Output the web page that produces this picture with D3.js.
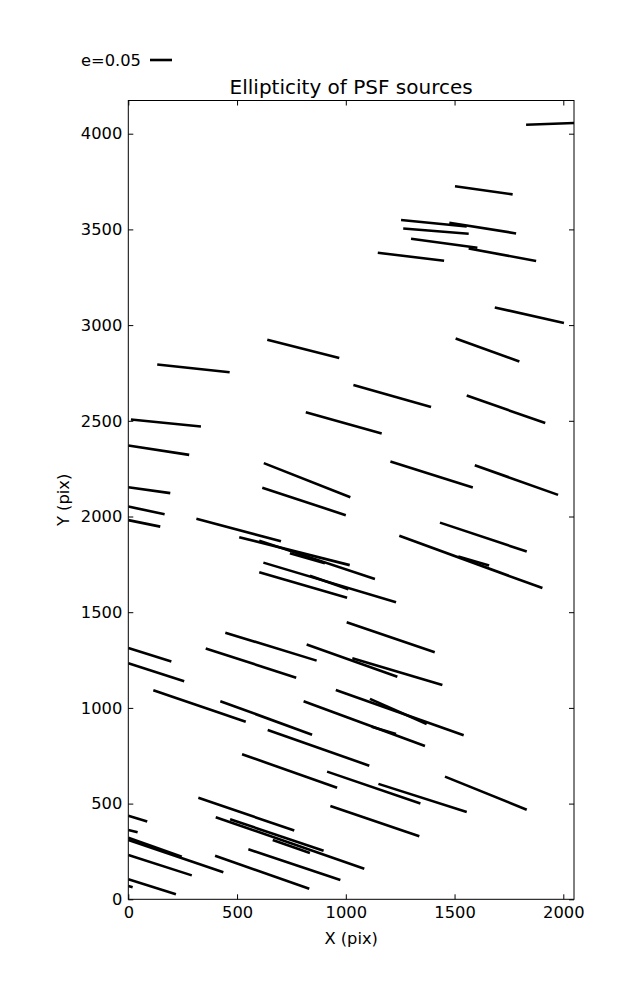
<!DOCTYPE html>
<html>
<head>
<meta charset="utf-8">
<script src="https://cdn.jsdelivr.net/npm/d3@7"></script>
<style>
  body { margin: 0; background: #fff; }
  text { font-family: "DejaVu Sans", sans-serif; fill: #000; }
</style>
</head>
<body>
<svg id="chart" width="637" height="1000"></svg>
<script>
// Whisker segments: start (x0,y0) and end (x1,y1) in detector pixels
const x0 = [1829,1502,1254,1476,1264,1300,1565,1147,1685, 639,1505, 133,1035,1556,  12, 816,   0, 623,1205,1593,   0, 616,   0,   0, 313, 510, 602, 743, 621, 835, 602,1433,1246,1517,1004,   0, 356, 446, 820,1030,   0, 115, 423, 806,1119, 954,1111, 641, 523, 914,1150,1456, 322, 929,   0, 402, 468, 664,   0,   0,   0,   0, 399, 552,   0,   0];
const y0 = [4047,3725,3549,3535,3505,3451,3400,3378,3092,2923,2930,2794,2687,2632,2507,2545,2371,2279,2287,2268,2153,2150,2052,1981,1988,1892,1874,1808,1759,1690,1709,1968,1899,1791,1448,1313,1310,1393,1331,1260,1234,1092,1035,1035, 902,1094,1047, 885, 758, 667, 603, 641, 531, 488, 437, 429, 418, 310, 362, 322, 310, 232, 228, 261, 105,  70];
const x1 = [2060,1767,1556,1783,1565,1605,1875,1452,2003, 970,1798, 466,1392,1917, 334,1165, 280,1021,1584,1976, 193,1000, 167, 147, 702,1018,1134, 904,1231,1012,1006,1832,1904,1659,1409, 198, 772, 866,1237,1444, 257, 540, 845,1364,1231,1542,1372,1108, 960,1343,1556,1832, 763,1338,  87,1085, 898, 835,  43, 246, 437, 292, 832, 975, 219,  20];
const y1 = [4056,3683,3515,3479,3477,3404,3335,3336,3011,2828,2810,2754,2572,2488,2470,2434,2322,2101,2151,2113,2122,2007,2012,1947,1871,1746,1674,1756,1552,1620,1576,1817,1626,1744,1291,1242,1158,1247,1163,1120,1139, 928, 860, 801, 864, 857, 916, 698, 583, 500, 456, 468, 359, 329, 406, 160, 254, 242, 350, 223, 141, 125,  55, 101,  26,  63];

const xTicks = [0, 500, 1000, 1500, 2000];
const yTicks = [0, 500, 1000, 1500, 2000, 2500, 3000, 3500, 4000];
const title = "Ellipticity of PSF sources";
const xLabel = "X (pix)";
const yLabel = "Y (pix)";
const legendLabel = "e=0.05";

const segs = x0.map((d, i) => ({x0: d, y0: y0[i], x1: x1[i], y1: y1[i]}));

const svg = d3.select("#chart");
const L = 128.3, R = 574, T = 100.5, B = 899.3;
const x = d3.scaleLinear().domain([0, 2050]).range([L, L + 2050 * 0.2175]);
const y = d3.scaleLinear().domain([0, 4000]).range([B, 133.7]);
const FS = "16.3px";

svg.append("defs").append("clipPath").attr("id", "clip")
  .append("rect").attr("x", L).attr("y", T).attr("width", R - L).attr("height", B - T);

svg.append("g").attr("clip-path", "url(#clip)")
  .selectAll("line").data(segs).join("line")
  .attr("x1", d => x(d.x0)).attr("y1", d => y(d.y0))
  .attr("x2", d => x(d.x1)).attr("y2", d => y(d.y1))
  .attr("stroke", "#000").attr("stroke-width", 2.6).attr("stroke-linecap", "butt");

// frame
svg.append("rect").attr("x", L).attr("y", T).attr("width", R - L).attr("height", B - T)
  .attr("fill", "none").attr("stroke", "#000").attr("stroke-width", 1);

const tl = 5;
const gx = svg.append("g").attr("transform", `translate(0,${B})`)
  .call(d3.axisBottom(x).tickValues(xTicks).tickSize(-tl).tickPadding(7.5).tickFormat(d3.format("d")));
const gxTop = svg.append("g").attr("transform", `translate(0,${T})`)
  .call(d3.axisTop(x).tickValues(xTicks).tickSize(-tl).tickFormat(""));
const gy = svg.append("g").attr("transform", `translate(${L},0)`)
  .call(d3.axisLeft(y).tickValues(yTicks).tickSize(-tl).tickPadding(6).tickFormat(d3.format("d")));
const gyR = svg.append("g").attr("transform", `translate(${R},0)`)
  .call(d3.axisRight(y).tickValues(yTicks).tickSize(-tl).tickFormat(""));
[gx, gxTop, gy, gyR].forEach(g => {
  g.select(".domain").remove();
  g.selectAll(".tick line").attr("stroke", "#000");
  g.selectAll("text").style("font-family", "DejaVu Sans").style("font-size", FS).attr("fill", "#000");
});

svg.append("text").attr("x", (L + R) / 2).attr("y", 94).attr("text-anchor", "middle")
  .style("font-size", "20px").text(title);
svg.append("text").attr("x", (L + R) / 2).attr("y", 944).attr("text-anchor", "middle")
  .style("font-size", FS).text(xLabel);
svg.append("text").attr("transform", `translate(69,${(T + B) / 2}) rotate(-90)`).attr("text-anchor", "middle")
  .style("font-size", FS).text(yLabel);

// legend
svg.append("text").attr("x", 81).attr("y", 65.5).style("font-size", FS).text(legendLabel);
svg.append("line").attr("x1", 150).attr("x2", 172).attr("y1", 60).attr("y2", 60)
  .attr("stroke", "#000").attr("stroke-width", 2.6);
</script>
</body>
</html>
